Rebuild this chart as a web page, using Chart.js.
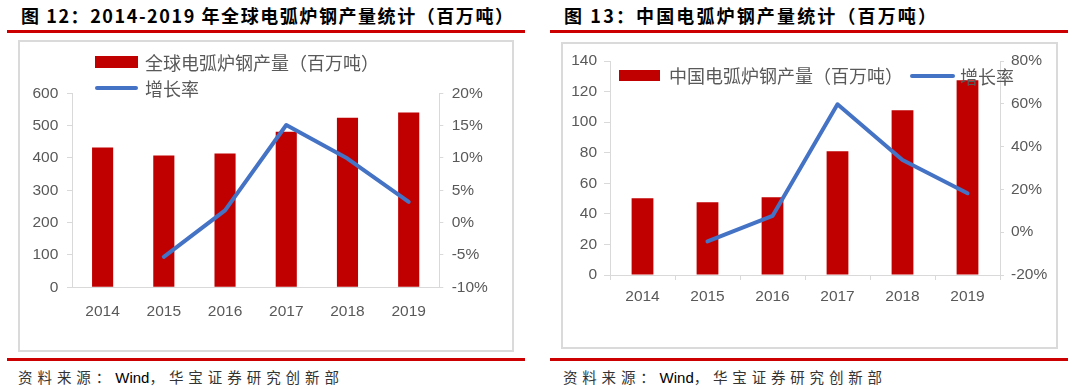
<!DOCTYPE html>
<html><head><meta charset="utf-8">
<script src="https://cdn.jsdelivr.net/npm/chart.js@4.4.1/dist/chart.umd.min.js"></script>
<style>
html,body{margin:0;padding:0;background:#fff;}
body{width:1080px;height:389px;position:relative;overflow:hidden;font-family:"Noto Sans CJK SC",sans-serif;}
.title{position:absolute;font-weight:bold;font-size:18px;color:#000;white-space:nowrap;height:30px;line-height:30px;}
.rule{position:absolute;height:3px;background:#cc0000;}
.box{position:absolute;border:2px solid #dadada;box-sizing:border-box;}
.leg{position:absolute;font-size:18px;color:#595959;white-space:nowrap;height:24px;line-height:24px;}
.sw{position:absolute;background:#C00000;}
.ln{position:absolute;background:#4472C4;height:4px;border-radius:2px;}
.src{position:absolute;font-size:14.5px;color:#333;white-space:nowrap;height:24px;line-height:24px;}
.src b{font-family:"Liberation Sans",Arial,sans-serif;font-weight:normal;color:#000;font-size:15px;letter-spacing:0 !important;}
canvas{position:absolute;}
</style></head>
<body>
<div class="title" id="t1" style="left:21px;top:0px;">图 12：2014-2019 年全球电弧炉钢产量统计（百万吨）</div>
<div class="title" id="t2" style="left:564px;top:0px;">图 13：中国电弧炉钢产量统计（百万吨）</div>
<div class="rule" style="left:7px;width:518px;top:30px;"></div>
<div class="rule" style="left:550px;width:518px;top:30px;"></div>
<div class="box" style="left:18px;top:40px;width:496px;height:312px;"></div>
<div class="box" style="left:561px;top:42px;width:497px;height:307px;"></div>
<canvas id="c1" width="496" height="312" style="left:18px;top:40px;width:496px;height:312px;"></canvas>
<canvas id="c2" width="497" height="307" style="left:561px;top:42px;width:497px;height:307px;"></canvas>

<div class="sw" style="left:95px;top:56px;width:43px;height:12px;"></div>
<div class="leg" style="left:145px;top:50px;">全球电弧炉钢产量（百万吨）</div>
<div class="ln" style="left:95px;top:86px;width:43px;"></div>
<div class="leg" style="left:145px;top:76px;">增长率</div>

<div class="sw" style="left:619px;top:70px;width:41px;height:11px;"></div>
<div class="leg" style="left:669px;top:63px;">中国电弧炉钢产量（百万吨）</div>
<div class="ln" style="left:910px;top:74px;width:45px;"></div>
<div class="leg" style="left:960px;top:64px;">增长率</div>

<div class="rule" style="left:7px;width:518px;top:358px;"></div>
<div class="rule" style="left:550px;width:518px;top:358px;"></div>
<div class="src" id="s1" style="left:18px;top:365px;">资料来源：<b>Wind</b>，华宝证券研究创新部</div>
<div class="src" id="s2" style="left:563px;top:365px;">资料来源：<b>Wind</b>，华宝证券研究创新部</div>

<script>
// ---- data ----
const years = ['2014', '2015', '2016', '2017', '2018', '2019'];
const globalEAF = [432, 408, 414, 481, 524, 541];
const globalGrowth = [null, -5.3, 1.9, 15.1, 9.9, 3.2];
const chinaEAF = [50.2, 47.6, 50.8, 80.9, 107.7, 127.4];
const chinaGrowth = [null, -4.3, 7.6, 59.8, 33.7, 18.2];
const globalVolLabels = [0, 100, 200, 300, 400, 500, 600];
const globalRateLabels = [-10, -5, 0, 5, 10, 15, 20];
const chinaVolLabels = [0, 20, 40, 60, 80, 100, 120, 140];
const chinaRateLabels = [-20, 0, 20, 40, 60, 80];

// ---- styling ----
const GRAY = '#595959', AXIS = '#d9d9d9', RED = '#C00000', BLUE = '#4472C4';
const tickFont = {family: '"Liberation Sans", Arial, sans-serif', size: 15.5};

function withMinor(labels) {
  const out = [];
  for (let i = 0; i < labels.length; i++) {
    out.push(labels[i]);
    if (i < labels.length - 1) out.push((labels[i] + labels[i + 1]) / 2);
  }
  return out;
}
function fixW(w) { return s => { s.width = w; s.paddingTop = 0; s.paddingBottom = 0; }; }
function fixH(h) { return s => { s.height = h; s.paddingLeft = 0; s.paddingRight = 0; }; }
function setTicks(vals) { return s => { s.ticks = vals.map(v => ({value: v})); }; }

function yAxis(pos, labels, tickVals, fmt, tickLen, pad, width) {
  return {
    position: pos, min: labels[0], max: labels[labels.length - 1],
    grid: {drawOnChartArea: false, drawTicks: true, tickLength: tickLen, color: AXIS, lineWidth: 1},
    border: {display: true, color: AXIS, width: 1},
    ticks: {color: GRAY, font: tickFont, padding: pad,
      callback: v => labels.includes(v) ? fmt(v) : ''},
    afterBuildTicks: setTicks(tickVals),
    afterFit: fixW(width)
  };
}

function makeChart(id, bars, growth, top, xH, barPct, xTicks, xPad, yL, yR) {
  return new Chart(document.getElementById(id), {
    type: 'bar',
    data: {
      labels: years,
      datasets: [
        {type: 'line', data: growth, yAxisID: 'y1', borderColor: BLUE, borderWidth: 4,
         pointRadius: 0, pointHoverRadius: 0, tension: 0, order: 0,
         borderCapStyle: 'round', borderJoinStyle: 'round'},
        {type: 'bar', data: bars, yAxisID: 'y', backgroundColor: RED,
         barPercentage: barPct, categoryPercentage: 1, order: 1}
      ]
    },
    options: {
      responsive: false, animation: false, events: [],
      layout: {padding: {top: top, left: 0, right: 0, bottom: 0}},
      plugins: {legend: {display: false}, tooltip: {enabled: false}},
      scales: {
        x: {
          offset: true,
          grid: {display: true, drawOnChartArea: false, drawTicks: xTicks, tickLength: 5, color: AXIS, offset: true},
          border: {display: true, color: AXIS, width: 1},
          ticks: {color: GRAY, font: tickFont, padding: xPad, maxRotation: 0, autoSkip: false},
          afterFit: fixH(xH)
        },
        y: yL,
        y1: yR
      }
    }
  });
}

makeChart('c1', globalEAF, globalGrowth, 53.3, 64.7, 0.345, false, 15,
  yAxis('left', globalVolLabels, withMinor(globalVolLabels), v => String(v), 5, 8.7, 54),
  yAxis('right', globalRateLabels, globalRateLabels, v => v + '%', 4, 8.4, 74.7));

makeChart('c2', chinaEAF, chinaGrowth, 19, 74, 0.335, true, 7.4,
  yAxis('left', chinaVolLabels, chinaVolLabels, v => String(v), 6, 7, 49),
  yAxis('right', chinaRateLabels, withMinor(chinaRateLabels), v => v + '%', 4, 7, 58));

// ---- fit text widths ----
function fit(id, target, gaps) {
  const el = document.getElementById(id);
  el.style.letterSpacing = '0px';
  const w = el.getBoundingClientRect().width;
  const n = gaps || (el.textContent.length - 1);
  el.style.letterSpacing = ((target - w) / n) + 'px';
}
function fitAll() {
  fit('t1', 492); fit('t2', 372); fit('s1', 321, 14); fit('s2', 319, 14);
}
fitAll();
if (document.fonts && document.fonts.ready) document.fonts.ready.then(fitAll);
</script>
</body></html>
